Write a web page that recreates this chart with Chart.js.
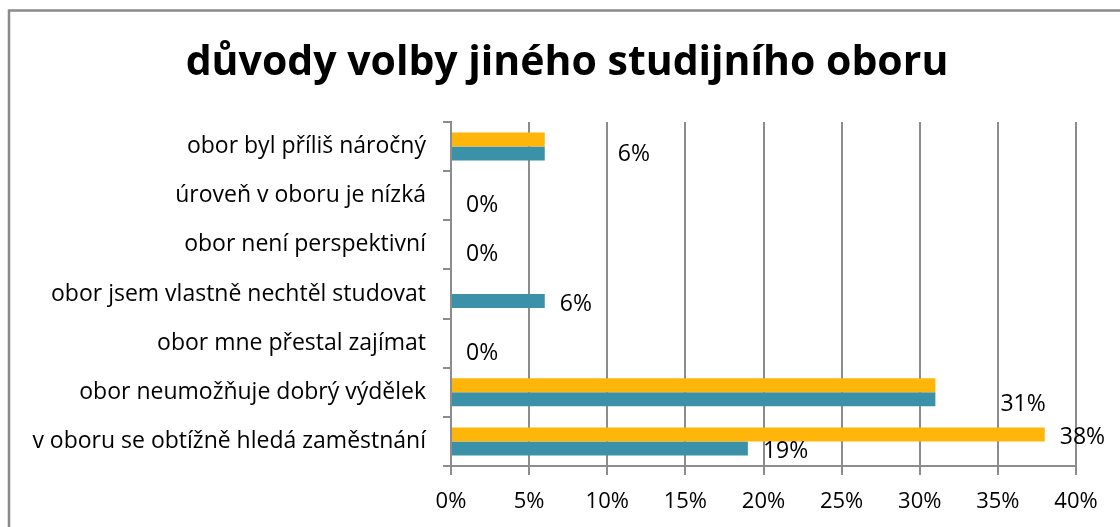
<!DOCTYPE html>
<html>
<head>
<meta charset="utf-8">
<script src="https://cdn.jsdelivr.net/npm/chart.js@4.4.1/dist/chart.umd.min.js"></script>
<style>
  html, body { margin:0; padding:0; background:#fff; }
  #wrap { position:relative; width:1120px; height:527px; }
</style>
</head>
<body>
<div id="wrap"><canvas id="chart" width="1120" height="527"></canvas></div>
<script>
// kategorie shora dolů
const categories = [
  'obor byl příliš náročný',
  'úroveň v oboru je nízká',
  'obor není perspektivní',
  'obor jsem vlastně nechtěl studovat',
  'obor mne přestal zajímat',
  'obor neumožňuje dobrý výdělek',
  'v oboru se obtížně hledá zaměstnání',
];
const orangeValues = [6, 0, 0, 0, 0, 31, 38];
const tealValues   = [6, 0, 0, 6, 0, 31, 19];
const orangeShowLabel = [false, false, false, false, false, false, true];
const tealShowLabel   = [true, true, true, true, true, true, true];
const xTicks = [0, 5, 10, 15, 20, 25, 30, 35, 40];
const titleText = 'důvody volby jiného studijního oboru';

// posun popisků od konce sloupce [dx, dy]
const tealLabelShift   = [[73,1],[15,3],[15,3],[15,3],[15,3],[65,5],[15,3]];
const orangeLabelShift = [[15,3],[15,3],[15,3],[15,3],[15,3],[15,3],[15,3]];

const FONT = "'Open Sans', 'Noto Sans', sans-serif";
const GRID = '#8c8c8c';

const framePlugin = {
  id: 'frame',
  afterDraw(chart) {
    const c = chart.ctx;
    c.save();
    c.strokeStyle = '#8a8a8a';
    c.lineWidth = 2.5;
    c.beginPath();
    c.moveTo(9, 527);
    c.lineTo(9, 10.5);
    c.lineTo(1120, 10.5);
    c.stroke();
    // nadpis
    c.fillStyle = '#000';
    c.font = 'bold 41px ' + FONT;
    c.textAlign = 'center';
    c.textBaseline = 'middle';
    c.fillText(titleText, 567, 63);
    c.restore();
  }
};

const labelPlugin = {
  id: 'barLabels',
  afterDatasetsDraw(chart) {
    const c = chart.ctx;
    c.save();
    c.font = '23px ' + FONT;
    c.fillStyle = '#000';
    c.textAlign = 'left';
    c.textBaseline = 'middle';
    chart.data.datasets.forEach((ds, di) => {
      const meta = chart.getDatasetMeta(di);
      meta.data.forEach((el, i) => {
        if (!ds.showLabel[i]) return;
        const [dx, dy] = ds.labelShift[i];
        c.fillText(ds.data[i] + '%', el.x + dx, el.y + dy);
      });
    });
    c.restore();
  }
};

new Chart(document.getElementById('chart'), {
  type: 'bar',
  data: {
    labels: categories,
    datasets: [
      { data: orangeValues, backgroundColor: '#FFB509', showLabel: orangeShowLabel, labelShift: orangeLabelShift },
      { data: tealValues,   backgroundColor: '#3A91A8', showLabel: tealShowLabel,   labelShift: tealLabelShift },
    ],
  },
  options: {
    indexAxis: 'y',
    responsive: false,
    animation: false,
    events: [],
    datasets: { bar: { categoryPercentage: 0.57, barPercentage: 1.0 } },
    layout: { padding: { left: 0, right: 44, top: 122, bottom: 0 } },
    plugins: {
      legend: { display: false },
      tooltip: { enabled: false },
      title: { display: false },
    },
    scales: {
      x: {
        min: 0, max: 40,
        afterBuildTicks: s => { s.ticks = xTicks.map(v => ({ value: v })); },
        afterFit: s => { s.height = 61; },
        grid: { color: GRID, lineWidth: 2, tickLength: 9, drawOnChartArea: true },
        border: { color: GRID, width: 2 },
        ticks: { color: '#000', font: { family: FONT, size: 22 }, padding: 14, callback: v => v + '%' },
      },
      y: {
        afterFit: s => { s.width = 451; },
        grid: { color: GRID, lineWidth: 2, tickLength: 8, drawOnChartArea: false, offset: true },
        border: { color: GRID, width: 2 },
        ticks: { color: '#000', font: { family: FONT, size: 23 }, padding: 17 },
      },
    },
  },
  plugins: [framePlugin, labelPlugin],
});
</script>
</body>
</html>
